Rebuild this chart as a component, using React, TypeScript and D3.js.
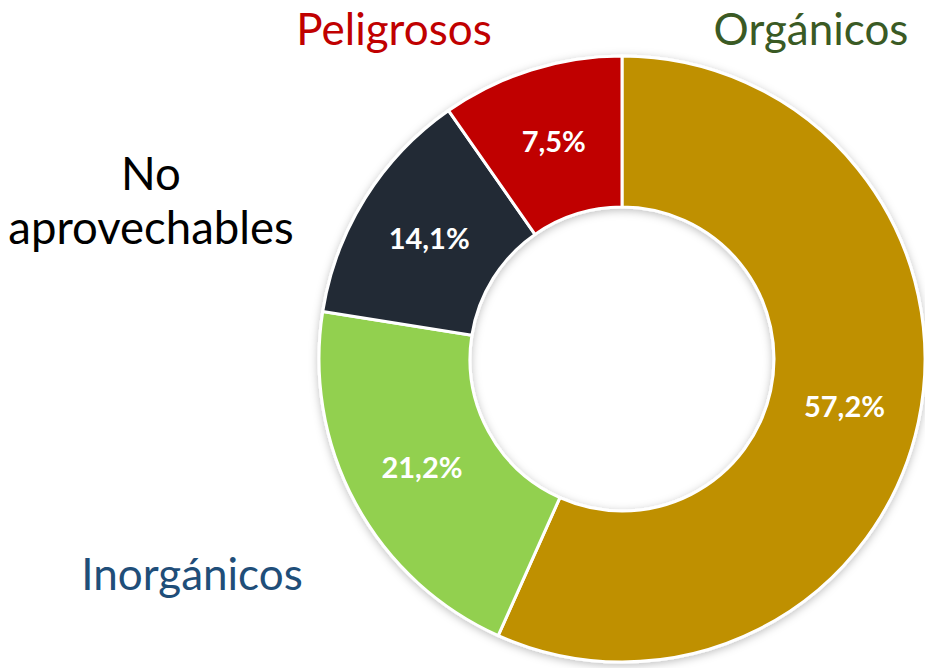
import { useMemo } from "react";
import * as d3 from "d3";

const categories = ["Orgánicos", "Inorgánicos", "No aprovechables", "Peligrosos"];
// slice sizes as drawn in the picture (the printed labels differ a little)
const sliceShares = [56.7, 20.8, 12.8, 9.7];
const valueLabels = ["57,2%", "21,2%", "14,1%", "7,5%"];
const sliceColors = ["#BF9000", "#92D050", "#222A35", "#C00000"];
const nameColors = ["#3A5A24", "#1F4E79", "#000000", "#C00000"];

const width = 925;
const height = 668;
const cx = 622;
const cy = 359;
const outerR = 303;
const innerR = 152;

// category name positions (outside the ring, as in the original slide)
const namePos = [
  { x: 811, y: 45, size: 44, lines: ["Orgánicos"] },
  { x: 192, y: 590, size: 44, lines: ["Inorgánicos"] },
  { x: 151, y: 190, size: 45.5, lines: ["No", "aprovechables"] },
  { x: 394, y: 45, size: 44, lines: ["Peligrosos"] },
];

const App = () => {
  const rows = useMemo(() => categories.map((c, i) => ({ name: c, value: sliceShares[i], i })), []);
  const pie = d3.pie<any>().sort(null).value(d => d.value).startAngle(0).endAngle(2 * Math.PI);
  const arcs = pie(rows);
  const arc = d3.arc<any>().innerRadius(innerR).outerRadius(outerR);

  return (
    <svg width={width} height={height} style={{ display: "block", position: "absolute", left: 0, top: 0 }}>
      <defs>
        <filter id="shadow" x="-20%" y="-20%" width="140%" height="140%">
          <feDropShadow dx="0" dy="2" stdDeviation="4" floodColor="#000" floodOpacity="0.25" />
        </filter>
      </defs>
      <rect width={width} height={height} fill="#fff" />
      <g transform={`translate(${cx},${cy})`}>
        <g filter="url(#shadow)">
          {arcs.map(a => (
            <path key={a.data.name} d={arc(a) || ""} fill={sliceColors[a.data.i]} stroke="#fff" strokeWidth={3} strokeLinejoin="round" />
          ))}
        </g>
        {arcs.map(a => {
          const [x, y] = arc.centroid(a);
          return (
            <text key={"v" + a.data.name} x={x} y={y} dy="0.36em" textAnchor="middle"
              fill="#fff" fontFamily="Lato, 'Open Sans', sans-serif" fontWeight="bold" fontSize={29}>
              {valueLabels[a.data.i]}
            </text>
          );
        })}
      </g>
      {namePos.map((p, i) =>
        p.lines.map((l, j) => (
          <text key={"n" + i + "-" + j} x={p.x} y={p.y + j * 54} textAnchor="middle" fill={nameColors[i]}
            fontFamily="Lato, 'Open Sans', sans-serif" fontSize={p.size}>
            {l}
          </text>
        ))
      )}
    </svg>
  );
};

export default App;
